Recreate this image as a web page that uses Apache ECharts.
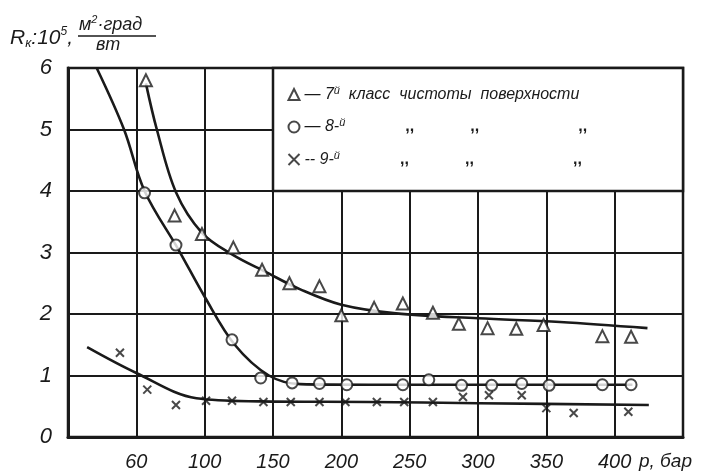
<!DOCTYPE html>
<html>
<head>
<meta charset="utf-8">
<script src="https://cdn.jsdelivr.net/npm/echarts@6/dist/echarts.min.js"></script>
<style>
  html, body { margin: 0; padding: 0; background: #fff; }
  #main { width: 710px; height: 475px; }
</style>
</head>
<body>
<div id="main"></div>
<script>
// tick labels (x axis printed "60" on the first line)
var xTickVals = [0, 50, 100, 150, 200, 250, 300, 350, 400, 450];
var xTickText = ['', '60', '100', '150', '200', '250', '300', '350', '400', ''];
var yTickText = ['0', '1', '2', '3', '4', '5', '6'];

// 7-й класс: measured points and drawn curve
var p7 = [57, 78, 98, 121, 142, 162, 184, 200, 224, 245, 267, 286, 307, 328, 348, 391, 412];
var r7 = [5.80, 3.60, 3.30, 3.08, 2.72, 2.50, 2.45, 1.98, 2.10, 2.17, 2.02, 1.84, 1.77, 1.76, 1.82, 1.64, 1.63];
var c7p = [57, 65, 79, 98, 120, 145, 170, 200, 240, 300, 360, 424];
var c7r = [5.75, 5.0, 3.98, 3.32, 2.97, 2.68, 2.40, 2.15, 2.01, 1.93, 1.87, 1.77];

// 8-й класс
var p8 = [56, 79, 120, 141, 164, 184, 204, 245, 264, 288, 310, 332, 352, 391, 412];
var r8 = [3.97, 3.12, 1.58, 0.96, 0.88, 0.87, 0.85, 0.85, 0.93, 0.84, 0.84, 0.87, 0.84, 0.85, 0.85];
var c8p = [21, 41, 56, 81, 100, 122, 147, 170, 220, 413];
var c8r = [6.0, 5.0, 4.0, 3.04, 2.28, 1.50, 1.0, 0.86, 0.85, 0.85];

// 9-й класс
var p9 = [38, 58, 79, 101, 120, 143, 163, 184, 203, 226, 246, 267, 289, 308, 332, 350, 370, 410];
var r9 = [1.37, 0.77, 0.52, 0.59, 0.59, 0.57, 0.57, 0.57, 0.57, 0.57, 0.57, 0.57, 0.65, 0.68, 0.68, 0.47, 0.39, 0.41];
var c9p = [14, 50, 94, 140, 220, 300, 425];
var c9r = [1.46, 1.04, 0.63, 0.58, 0.57, 0.55, 0.52];

var FONT = "'Liberation Sans Narrow', 'Liberation Sans', sans-serif";
var INK = '#1a1a1a';

function zip(a, b) {
  return a.map(function (v, i) { return [v, b[i]]; });
}

var crossIcon = 'path://M0,0L10,10M10,0L0,10';

var myChart = echarts.init(document.getElementById('main'));

var curveStyle = { color: INK, width: 2.6 };
function curve(name, xs, ys, extra) {
  var s = {
    name: name,
    type: 'line',
    data: zip(xs, ys),
    smooth: 0.35,
    showSymbol: false,
    lineStyle: curveStyle,
    silent: true,
    z: 3
  };
  if (extra) { for (var k in extra) s[k] = extra[k]; }
  return s;
}
function marks(name, xs, ys, symbol, size) {
  return {
    name: name,
    type: 'scatter',
    data: zip(xs, ys),
    symbol: symbol,
    symbolSize: size,
    itemStyle: { color: '#fff', borderColor: INK, borderWidth: 2 },
    z: 5
  };
}

var rich = {
  t: { fontFamily: FONT, fontStyle: 'italic', fontSize: 16, color: INK },
  s: { fontFamily: FONT, fontStyle: 'italic', fontSize: 11, color: INK, padding: [0, 0, 8, 0] },
  w1: { width: 60 }, w2: { width: 51 }, w3: { width: 94 },
  q: { fontFamily: FONT, fontWeight: 'bold', fontSize: 16, color: INK, width: 14 }
};
var legendText = {
    '7': '{t|— 7}{s|й}{t|  класс  чистоты  поверхности}',
    '8': '{t|— 8-}{s|й}{w1|}{q|,,}{w2|}{q|,,}{w3|}{q|,,}',
    '9': '{t|-- 9-}{s|й}{w1|}{q|,,}{w2|}{q|,,}{w3|}{q|,,}'
};

var option = {
  backgroundColor: '#fff',
  animation: false,
  grid: { left: 68, right: 27, top: 68, bottom: 38, show: true, borderColor: INK, borderWidth: 2.5, backgroundColor: 'transparent' },
  legend: {
    orient: 'vertical',
    left: 281,
    top: 80,
    itemGap: 15,
    itemWidth: 11,
    itemHeight: 11,
    selectedMode: false,
    data: [
      { name: '7', icon: 'triangle' },
      { name: '8', icon: 'circle' },
      { name: '9', icon: crossIcon }
    ],
    formatter: function (n) { return legendText[n]; },
    textStyle: { rich: rich }
  },
  xAxis: {
    type: 'value',
    min: 0, max: 450, interval: 50,
    name: 'р, бар',
    nameLocation: 'end',
    nameGap: -44,
    nameTextStyle: { fontFamily: FONT, fontStyle: 'italic', fontSize: 19, color: INK, align: 'left', verticalAlign: 'top', padding: [15, 0, 0, 0] },
    axisLine: { lineStyle: { color: INK, width: 3 } },
    axisTick: { show: false },
    splitLine: { show: true, lineStyle: { color: INK, width: 2 } },
    axisLabel: {
      margin: 15,
      fontFamily: FONT, fontStyle: 'italic', fontSize: 20, color: INK,
      formatter: function (v) { var i = xTickVals.indexOf(v); return i < 0 ? '' : xTickText[i]; }
    }
  },
  yAxis: {
    type: 'value',
    min: 0, max: 6, interval: 1,
    axisLine: { show: true, lineStyle: { color: INK, width: 3 } },
    axisTick: { show: false },
    splitLine: { show: true, lineStyle: { color: INK, width: 2 } },
    axisLabel: {
      margin: 16,
      fontFamily: FONT, fontStyle: 'italic', fontSize: 22, color: INK,
      formatter: function (v) { return yTickText[v] || ''; }
    }
  },
  graphic: [
    {
      type: 'text', left: 10, top: 26,
      style: {
        text: '{r|R}{k|к}{r|:10}{p|5}{r|,}',
        rich: {
          r: { fontFamily: FONT, fontStyle: 'italic', fontSize: 21, fill: INK },
          k: { fontFamily: FONT, fontStyle: 'italic', fontSize: 13, fill: INK, padding: [10, 0, 0, 0] },
          p: { fontFamily: FONT, fontStyle: 'italic', fontSize: 12, fill: INK, padding: [0, 0, 12, 0] }
        }
      }
    },
    {
      type: 'text', left: 79, top: 14,
      style: {
        text: '{r|м}{p|2}{r|·град}',
        rich: {
          r: { fontFamily: FONT, fontStyle: 'italic', fontSize: 18, fill: INK },
          p: { fontFamily: FONT, fontStyle: 'italic', fontSize: 11, fill: INK, padding: [0, 0, 10, 0] }
        }
      }
    },
    { type: 'line', shape: { x1: 78, y1: 36, x2: 156, y2: 36 }, style: { stroke: INK, lineWidth: 1.5 } },
    {
      type: 'text', left: 96, top: 36,
      style: { text: 'вт', fontFamily: FONT, fontStyle: 'italic', fontSize: 18, fill: INK }
    }
  ],
  series: [
    curve('c7', c7p, c7r, {
      markArea: {
        silent: true,
        itemStyle: { color: '#fff', borderColor: INK, borderWidth: 2.5 },
        data: [[{ coord: [150, 4] }, { coord: [450, 6] }]]
      }
    }),
    curve('c8', c8p, c8r),
    curve('c9', c9p, c9r),
    marks('7', p7, r7, 'triangle', 12),
    marks('8', p8, r8, 'circle', 11),
    {
      name: '9',
      type: 'scatter',
      data: zip(p9, r9),
      symbol: crossIcon,
      symbolSize: 8,
      itemStyle: { color: 'none', borderColor: INK, borderWidth: 2 },
      z: 5
    }
  ]
};

myChart.setOption(option);
window.addEventListener('resize', function () { myChart.resize(); });
</script>
</body>
</html>
